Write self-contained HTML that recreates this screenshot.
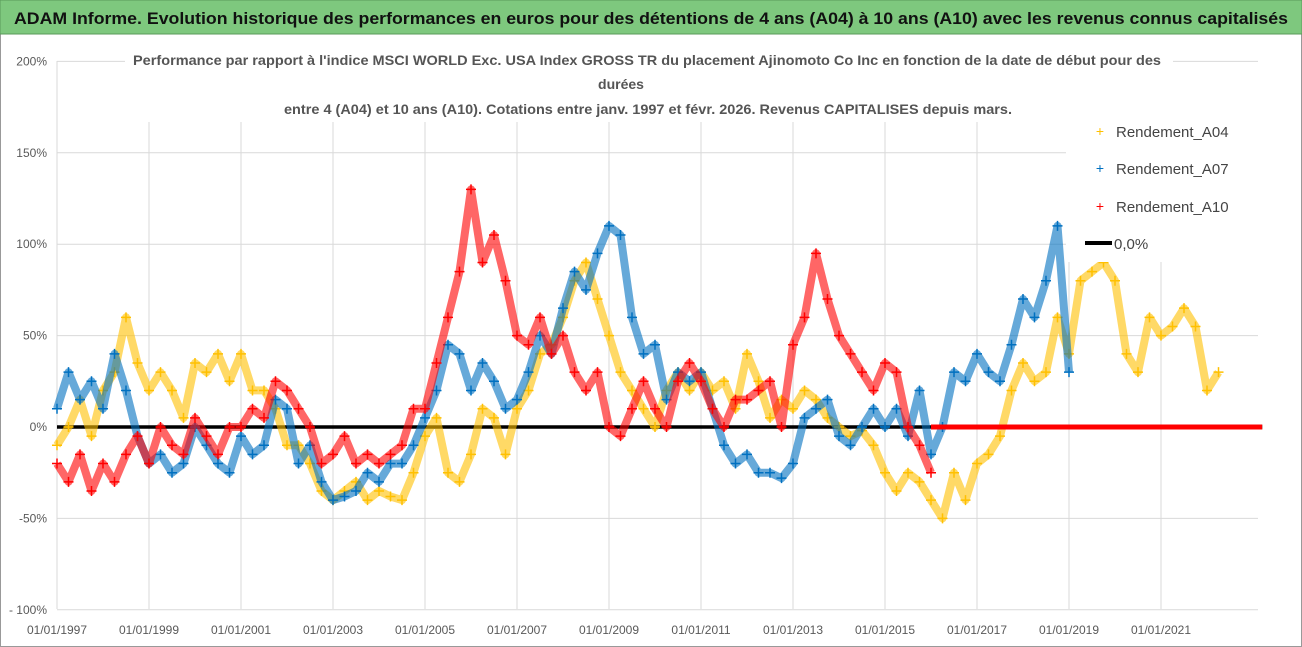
<!DOCTYPE html>
<html><head><meta charset="utf-8"><style>
html,body{margin:0;padding:0;background:#fff;}
svg{display:block;font-family:"Liberation Sans",sans-serif;}
</style></head><body>
<svg id="chart" width="1302" height="647" viewBox="0 0 1302 647" xmlns="http://www.w3.org/2000/svg">
<rect x="0.5" y="0.5" width="1301" height="646" fill="#fff" stroke="#999"/>
<rect x="0" y="0" width="1302" height="34" fill="#7ec87e" stroke="#5a9a5a"/>
<text x="14" y="24" font-size="17" font-weight="bold" fill="#111" textLength="1274" lengthAdjust="spacingAndGlyphs">ADAM Informe. Evolution historique des performances en euros pour des détentions de 4 ans (A04) à 10 ans (A10) avec les revenus connus capitalisés</text>
<g id="grid"></g>
<g id="yaxis"></g>
<g id="xaxis"></g>
<g id="series"></g>
<rect x="125" y="48" width="1048" height="74" fill="#fff"/>
<text x="133" y="65" font-size="14" font-weight="bold" fill="#555" textLength="1028" lengthAdjust="spacingAndGlyphs">Performance par rapport à l'indice MSCI WORLD Exc. USA Index GROSS TR  du placement Ajinomoto Co Inc en fonction de la date de début pour des</text>
<text x="621" y="89" font-size="14" font-weight="bold" fill="#555" text-anchor="middle">durées</text>
<text x="284" y="114" font-size="14" font-weight="bold" fill="#555" textLength="728" lengthAdjust="spacingAndGlyphs">entre 4 (A04) et 10 ans (A10). Cotations entre janv. 1997 et févr. 2026. Revenus CAPITALISES depuis mars.</text>
<g>
<rect x="1066" y="114" width="194" height="148" fill="#fff"/>
<g><text x="1100" y="136" font-size="14" fill="#ffc000" text-anchor="middle">+</text><text x="1116" y="137" font-size="15" fill="#444">Rendement_A04</text></g>
<g><text x="1100" y="173" font-size="14" fill="#0070c0" text-anchor="middle">+</text><text x="1116" y="174" font-size="15" fill="#444">Rendement_A07</text></g>
<g><text x="1100" y="211" font-size="14" fill="#ff0000" text-anchor="middle">+</text><text x="1116" y="212" font-size="15" fill="#444">Rendement_A10</text></g>
<g><line x1="1085" y1="243" x2="1112" y2="243" stroke="#000" stroke-width="4"/><text x="1114" y="249" font-size="15" fill="#444">0,0%</text></g>
</g>
</svg>
<script>
const yTicks=[200,150,100,50,0,-50,-100];
const yTickLabels=["200%","150%","100%","50%","0%","-50%","- 100%"];
const xTicks=[1997,1999,2001,2003,2005,2007,2009,2011,2013,2015,2017,2019,2021];
const xTickLabels=["01/01/1997","01/01/1999","01/01/2001","01/01/2003","01/01/2005","01/01/2007","01/01/2009","01/01/2011","01/01/2013","01/01/2015","01/01/2017","01/01/2019","01/01/2021"];
const a04Start=1997, a07Start=1997, a10Start=1997, step=0.25;
const a04=[-10,0,15,-5,20,30,60,35,20,30,20,5,35,30,40,25,40,20,20,10,-10,-10,-20,-35,-40,-35,-30,-40,-35,-38,-40,-25,-5,5,-25,-30,-15,10,5,-15,10,20,40,45,60,80,90,70,50,30,20,10,0,20,30,20,30,20,25,10,40,25,5,15,10,20,15,5,0,-5,-2,-10,-25,-35,-25,-30,-40,-50,-25,-40,-20,-15,-5,20,35,25,30,60,40,80,85,90,80,40,30,60,50,55,65,55,20,30];
const a07=[10,30,15,25,10,40,20,-5,-20,-15,-25,-20,0,-10,-20,-25,-5,-15,-10,15,10,-20,-10,-30,-40,-38,-35,-25,-30,-20,-20,-10,5,20,45,40,20,35,25,10,15,30,50,40,65,85,75,95,110,105,60,40,45,15,30,25,30,10,-10,-20,-15,-25,-25,-28,-20,5,10,15,-5,-10,0,10,0,10,-5,20,-15,0,30,25,40,30,25,45,70,60,80,110,30];
const a10=[-20,-30,-15,-35,-20,-30,-15,-5,-20,0,-10,-15,5,-5,-15,0,0,10,5,25,20,10,0,-20,-15,-5,-20,-15,-20,-15,-10,10,10,35,60,85,130,90,105,80,50,45,60,40,50,30,20,30,0,-5,10,25,10,0,25,35,25,10,0,15,15,20,25,0,45,60,95,70,50,40,30,20,35,30,0,-10,-25];
const xEnd=2023.2;
const NS="http://www.w3.org/2000/svg";
function xs(t){return 57+(t-1997)*46;}
function ys(v){return 427-v*91.4/50;}
function mk(tag,attrs,parent){const e=document.createElementNS(NS,tag);for(const k in attrs)e.setAttribute(k,attrs[k]);parent.appendChild(e);return e;}
const grid=document.getElementById('grid'),yax=document.getElementById('yaxis'),xax=document.getElementById('xaxis'),ser=document.getElementById('series');
yTicks.forEach((v,i)=>{
 const l=mk('line',{x1:57,x2:1258,y1:ys(v),y2:ys(v),stroke:'#d9d9d9','stroke-width':1},grid);
 
 
 const t=mk('text',{x:47,y:ys(v)+4,'font-size':12,fill:'#595959','text-anchor':'end'},yax);
 t.textContent=yTickLabels[i];
 
 
});
xTicks.forEach((v,i)=>{
 const l=mk('line',{x1:xs(v),x2:xs(v),y1:61,y2:609,stroke:'#d9d9d9','stroke-width':1},grid);
 
 
 const t=mk('text',{x:xs(v),y:634,'font-size':12,fill:'#595959','text-anchor':'middle'},xax);
 t.textContent=xTickLabels[i];
 
 
});
const zl=mk('line',{x1:xs(1997),x2:xs(xEnd),y1:ys(0),y2:ys(0),stroke:'#000','stroke-width':3.5},ser);


function drawSeries(arr,start,color,name){
 const g=mk('g',{},ser);
 
 
 const pts=arr.map((v,i)=>xs(start+i*step).toFixed(1)+','+ys(v).toFixed(1)).join(' ');
 const pl=mk('polyline',{points:pts,fill:'none',stroke:color,'stroke-width':8,'stroke-opacity':0.6,'stroke-linejoin':'round'},g);
 
 
 arr.forEach((v,i)=>{
  const x=xs(start+i*step),y=ys(v);
  const p=mk('path',{d:`M${x-5},${y}H${x+5}M${x},${y-5}V${y+5}`,stroke:color,'stroke-width':1.5},g);
  
  
 });
 const endT=start+(arr.length-1)*step;
 const tail=mk('line',{x1:xs(endT),x2:xs(xEnd),y1:ys(0),y2:ys(0),stroke:color,'stroke-width':5},g);
 
 
}
drawSeries(a04,a04Start,'#ffc000','series-a04');
drawSeries(a07,a07Start,'#0070c0','series-a07');
drawSeries(a10,a10Start,'#ff0000','series-a10');
</script>
</body></html>
